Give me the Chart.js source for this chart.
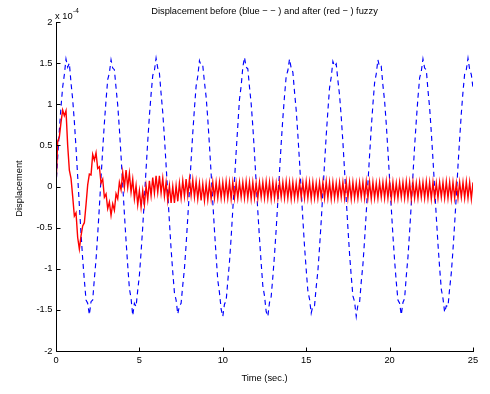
<!DOCTYPE html>
<html><head><meta charset="utf-8">
<script src="https://cdn.jsdelivr.net/npm/chart.js@4.4.1/dist/chart.umd.min.js"></script>
<style>html,body{margin:0;padding:0;background:#fff;}canvas{display:block;}</style>
</head><body>
<canvas id="c" width="490" height="394"></canvas>
<script>
const chartTitle = 'Displacement before (blue \u2212 \u2212 ) and after (red \u2212 ) fuzzy';
const xAxisTitle = 'Time (sec.)';
const yAxisTitle = 'Displacement';
const yExponentBase = 'x 10';
const yExponent = '-4';
const xTickValues = [0, 5, 10, 15, 20, 25];
const xTickLabels = ['0', '5', '10', '15', '20', '25'];
const yTickValues = [-2, -1.5, -1, -0.5, 0, 0.5, 1, 1.5, 2];
const yTickLabels = ['-2', '-1.5', '-1', '-0.5', '0', '0.5', '1', '1.5', '2'];
const sampleStep = 0.1; // seconds between read samples

// displacement before fuzzy control (x 1e-4), one value per 0.1 s
const blueDisp = [
 0,0.35,0.68,0.97,1.21,1.36,1.55,1.45,1.50,1.26,
 1.06,0.79,0.47,0.12,-0.23,-0.57,-0.88,-1.14,-1.38,-1.42,
 -1.56,-1.40,-1.38,-1.12,-0.89,-0.58,-0.25,0.11,0.45,0.77,
 1.05,1.30,1.38,1.54,1.44,1.42,1.20,0.99,0.70,0.37,
 0.02,-0.33,-0.66,-0.96,-1.24,-1.36,-1.57,-1.42,-1.46,-1.26,
 -1.08,-0.80,-0.49,-0.14,0.21,0.55,0.86,1.12,1.35,1.41,
 1.56,1.44,1.38,1.13,0.90,0.60,0.26,-0.09,-0.43,-0.76,
 -1.04,-1.29,-1.38,-1.55,-1.45,-1.42,-1.20,-1.00,-0.71,-0.38,
 -0.04,0.32,0.65,0.95,1.22,1.34,1.53,1.47,1.47,1.27,
 1.09,0.82,0.50,0.16,-0.19,-0.53,-0.85,-1.14,-1.29,-1.49,
 -1.58,-1.43,-1.39,-1.15,-0.92,-0.62,-0.28,0.07,0.42,0.74,
 1.06,1.22,1.45,1.57,1.45,1.43,1.21,1.01,0.73,0.40,
 0.05,-0.30,-0.63,-0.93,-1.21,-1.33,-1.52,-1.58,-1.41,-1.34,
 -1.10,-0.83,-0.52,-0.18,0.18,0.52,0.83,1.10,1.34,1.41,
 1.55,1.44,1.39,1.15,0.93,0.63,0.30,-0.05,-0.40,-0.73,
 -1.01,-1.27,-1.37,-1.54,-1.45,-1.45,-1.22,-1.03,-0.74,-0.42,
 -0.07,0.28,0.62,0.92,1.20,1.33,1.52,1.46,1.49,1.29,
 1.11,0.85,0.54,0.19,-0.16,-0.50,-0.82,-1.09,-1.33,-1.40,
 -1.58,-1.44,-1.41,-1.16,-0.95,-0.65,-0.32,0.04,0.38,0.71,
 1.00,1.26,1.37,1.54,1.45,1.46,1.23,1.04,0.76,0.43,
 0.09,-0.26,-0.60,-0.90,-1.16,-1.38,-1.42,-1.56,-1.41,-1.36,
 -1.09,-0.86,-0.55,-0.21,0.14,0.49,0.80,1.08,1.32,1.40,
 1.55,1.44,1.42,1.17,0.96,0.66,0.33,-0.02,-0.37,-0.70,
 -0.99,-1.25,-1.36,-1.53,-1.45,-1.46,-1.24,-1.05,-0.77,-0.45,
 -0.11,0.25,0.58,0.89,1.15,1.37,1.42,1.56,1.42,1.36,
 1.20
];

// displacement after fuzzy control (x 1e-4), one value per 0.1 s
const redDisp = [
 0,0.55,0.60,0.78,0.93,0.86,0.92,0.50,0.20,0.10,
 -0.12,-0.36,-0.32,-0.62,-0.76,-0.60,-0.48,-0.44,-0.22,0.02,
 0.15,0.14,0.39,0.32,0.41,0.22,0.24,0.04,0.09,-0.13,
 -0.09,-0.27,-0.19,-0.35,-0.21,-0.29,-0.09,-0.15,0.05,-0.04,
 0.17,-0.01,0.20,-0.01,0.16,-0.07,0.09,-0.15,0.01,-0.22,
 -0.05,-0.25,-0.05,-0.22,0.01,-0.16,0.07,-0.11,0.11,-0.08,
 0.13,-0.07,0.13,-0.08,0.10,-0.12,0.05,-0.17,0.01,-0.20,
 0.00,-0.20,0.01,-0.18,0.04,-0.14,0.07,-0.12,0.09,-0.11,
 0.09,-0.11,0.08,-0.13,0.06,-0.15,0.04,-0.17,0.03,-0.17,
 0.03,-0.16,0.04,-0.15,0.05,-0.14,0.05,-0.14,0.05,-0.14,
 0.05,-0.14,0.06,-0.14,0.05,-0.15,0.05,-0.14,0.04,-0.14,
 0.05,-0.13,0.05,-0.14,0.06,-0.14,0.05,-0.15,0.05,-0.14,
 0.04,-0.14,0.05,-0.13,0.05,-0.14,0.06,-0.14,0.05,-0.15,
 0.05,-0.14,0.04,-0.14,0.05,-0.13,0.05,-0.14,0.06,-0.14,
 0.05,-0.15,0.05,-0.14,0.04,-0.14,0.05,-0.13,0.05,-0.14,
 0.06,-0.14,0.05,-0.15,0.05,-0.14,0.04,-0.14,0.05,-0.13,
 0.05,-0.14,0.06,-0.14,0.05,-0.15,0.05,-0.14,0.04,-0.14,
 0.05,-0.13,0.05,-0.14,0.06,-0.14,0.05,-0.15,0.05,-0.14,
 0.04,-0.14,0.05,-0.13,0.05,-0.14,0.06,-0.14,0.05,-0.15,
 0.05,-0.14,0.04,-0.14,0.05,-0.13,0.05,-0.14,0.06,-0.14,
 0.05,-0.15,0.05,-0.14,0.04,-0.14,0.05,-0.13,0.05,-0.14,
 0.06,-0.14,0.05,-0.15,0.05,-0.14,0.04,-0.14,0.05,-0.13,
 0.05,-0.14,0.06,-0.14,0.05,-0.15,0.05,-0.14,0.04,-0.14,
 0.05,-0.13,0.05,-0.14,0.06,-0.14,0.05,-0.15,0.05,-0.14,
 0.04,-0.14,0.05,-0.13,0.05,-0.14,0.06,-0.14,0.05,-0.15,
 0.05
];

const FONT = "'Liberation Sans', Arial, Helvetica, sans-serif";
const toPoints = arr => arr.map((v, i) => ({ x: Math.round(i * sampleStep * 10) / 10, y: v }));

const matlabAxes = {
  id: 'matlabAxes',
  afterDraw(chart) {
    const { ctx, chartArea: a, scales: { x, y } } = chart;
    ctx.save();
    ctx.strokeStyle = '#000';
    ctx.lineWidth = 1;
    const L = Math.round(a.left) + 0.5;
    const B = Math.round(a.bottom) + 0.5;
    ctx.beginPath();
    ctx.moveTo(L, Math.round(a.top));
    ctx.lineTo(L, B);
    ctx.lineTo(Math.round(a.right) + 1, B);
    x.ticks.forEach(t => {
      const px = Math.round(x.getPixelForValue(t.value)) + 0.5;
      ctx.moveTo(px, B); ctx.lineTo(px, B - 4);
    });
    y.ticks.forEach(t => {
      const py = Math.round(y.getPixelForValue(t.value)) + 0.5;
      ctx.moveTo(L, py); ctx.lineTo(L + 4, py);
    });
    ctx.stroke();

    ctx.fillStyle = '#000';
    ctx.textBaseline = 'middle';
    ctx.textAlign = 'center';
    ctx.font = '9.3px ' + FONT;
    const cx = (a.left + a.right) / 2;
    ctx.fillText(chartTitle, cx, 11);
    ctx.fillText(xAxisTitle, cx, 378);
    ctx.save();
    ctx.translate(19, (a.top + a.bottom) / 2 + 2);
    ctx.rotate(-Math.PI / 2);
    ctx.fillText(yAxisTitle, 0, 0);
    ctx.restore();
    ctx.textAlign = 'left';
    ctx.fillText(yExponentBase, a.left - 1, 16);
    const w = ctx.measureText(yExponentBase).width;
    ctx.font = '6.5px ' + FONT;
    ctx.fillText(yExponent, a.left - 1 + w + 0.5, 11);
    ctx.restore();
  }
};

new Chart(document.getElementById('c'), {
  type: 'line',
  data: {
    datasets: [
      { label: 'after', data: toPoints(redDisp), borderColor: '#ff0000', borderWidth: 1.4,
        pointRadius: 0, tension: 0, fill: false },
      { label: 'before', data: toPoints(blueDisp), borderColor: '#0000ff', borderWidth: 1.15,
        borderDash: [5, 4], pointRadius: 0, tension: 0, fill: false }
    ]
  },
  options: {
    responsive: false,
    animation: false,
    events: [],
    layout: { padding: { left: 0, right: 17, top: 22, bottom: 0 } },
    plugins: { legend: { display: false }, title: { display: false }, tooltip: { enabled: false } },
    scales: {
      x: {
        type: 'linear', min: 0, max: 25,
        afterFit: s => { s.height = 43; },
        afterBuildTicks: s => { s.ticks = xTickValues.map(v => ({ value: v })); },
        grid: { display: false, drawTicks: false },
        border: { display: false },
        ticks: { padding: 4, color: '#000', font: { family: FONT, size: 9.3 }, maxRotation: 0,
          callback: v => xTickLabels[xTickValues.indexOf(v)] }
      },
      y: {
        type: 'linear', min: -2, max: 2,
        afterFit: s => { s.width = 56; },
        afterBuildTicks: s => { s.ticks = yTickValues.map(v => ({ value: v })); },
        grid: { display: false, drawTicks: false },
        border: { display: false },
        ticks: { padding: 3.5, color: '#000', font: { family: FONT, size: 9.3 },
          callback: v => yTickLabels[yTickValues.indexOf(v)] }
      }
    }
  },
  plugins: [matlabAxes]
});
</script>
</body></html>
